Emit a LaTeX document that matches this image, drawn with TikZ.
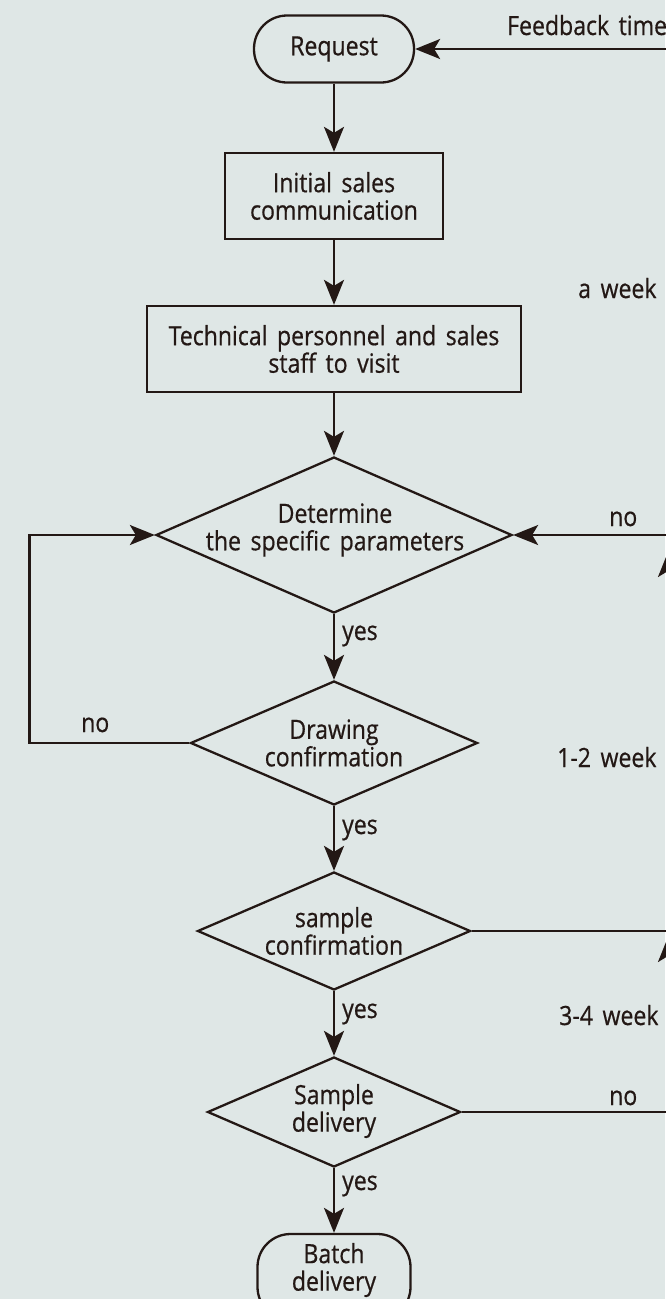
\documentclass[tikz,border=0pt]{standalone}
\usepackage{fontspec}
\setmainfont{Open Sans}[FakeStretch=0.87, WordSpace=1.6, FakeBold=0.6]
\usetikzlibrary{shapes.geometric,arrows.meta}
\definecolor{bg}{RGB}{223,231,230}
\definecolor{lc}{HTML}{231815}
\tikzset{
  ln/.style={draw=lc, line width=2.3pt},
  arr/.style={ln, -{Stealth[length=25pt,width=20pt,inset=6pt]}},
  term/.style={ln, rectangle, rounded corners=33pt, minimum width=160pt, minimum height=67pt, inner sep=2pt, text=lc},
  proc/.style={ln, rectangle, minimum height=86pt, inner sep=2pt, align=center, text=lc},
  dec/.style={ln, diamond, inner sep=0pt},
  txt/.style={align=center, inner sep=0pt, text=lc},
  lbl/.style={inner sep=0pt, anchor=base west, text=lc},
}
\begin{document}
\begin{tikzpicture}[x=1pt,y=-1pt,font=\fontsize{26.5}{27.5}\selectfont]
\useasboundingbox[fill=bg] (0,0) rectangle (665,1299);
% nodes
\node[term] (req) at (334,49) {Request};
\node[proc, minimum width=218pt] (init) at (334,196) {Initial sales\\communication};
\node[proc, minimum width=374pt] (tech) at (334,349) {Technical personnel and sales\\staff to visit};
\node[dec, minimum width=356pt, minimum height=156pt] (d1) at (334,535) {};
\node[txt] (t1) at (335,530) {Determine\\the specific parameters};
\node[dec, minimum width=287pt, minimum height=124pt] (d2) at (334,743) {};
\node[txt] (t2) at (334,743) {Drawing\\confirmation};
\node[dec, minimum width=273pt, minimum height=118pt] (d3) at (334,931) {};
\node[txt] (t3) at (334,931) {sample\\confirmation};
\node[dec, minimum width=253pt, minimum height=110pt] (d4) at (334,1112) {};
\node[txt] (t4) at (334,1111) {Sample\\delivery};
\node[term, minimum width=153pt, minimum height=86pt] (bat) at (334,1277) {};
\node[txt] (tb) at (334,1270) {Batch\\delivery};
% labels
\node[lbl] (fbl) at (507,35) {Feedback time};
\node[lbl] (wk1) at (578,298) {a week};
\node[lbl] (wk2) at (557,767) {1-2 week};
\node[lbl] (wk3) at (559,1025) {3-4 week};
\node[lbl] (y1) at (342,640) {yes};
\node[lbl] (y2) at (342,834) {yes};
\node[lbl] (y3) at (342,1018) {yes};
\node[lbl] (y4) at (342,1190) {yes};
\node[lbl] (n1) at (609,526) {no};
\node[lbl] (n2) at (81,732) {no};
\node[lbl] (n3) at (609,1105) {no};
% coordinates at the cut right edge
\coordinate (fbE) at (680,49);
\coordinate (rE) at (680,535);
\coordinate (c3) at (668,931);
\coordinate (c4) at (668,1112);
\coordinate (u1) at (668,552);
\coordinate (u2) at (668,937);
% connectors
\draw[arr] (req) -- (init);
\draw[arr] (init) -- (tech);
\draw[arr] (tech) -- (d1.north);
\draw[arr] (d1.south) -- (d2.north);
\draw[arr] (d2.south) -- (d3.north);
\draw[arr] (d3.south) -- (d4.north);
\draw[arr] (d4.south) -- (bat.north);
\draw[arr] (fbE) -- (req.east);
\draw[arr] (rE) -- (d1.east);
\draw[arr] (d2.west) -- ++(-160,0) |- (d1.west);
\draw[ln] (d3.east) -- (c3);
\draw[arr] (c3) -- (u1);
\draw[ln] (d4.east) -- (c4);
\draw[arr] (c4) -- (u2);
\end{tikzpicture}
\end{document}
